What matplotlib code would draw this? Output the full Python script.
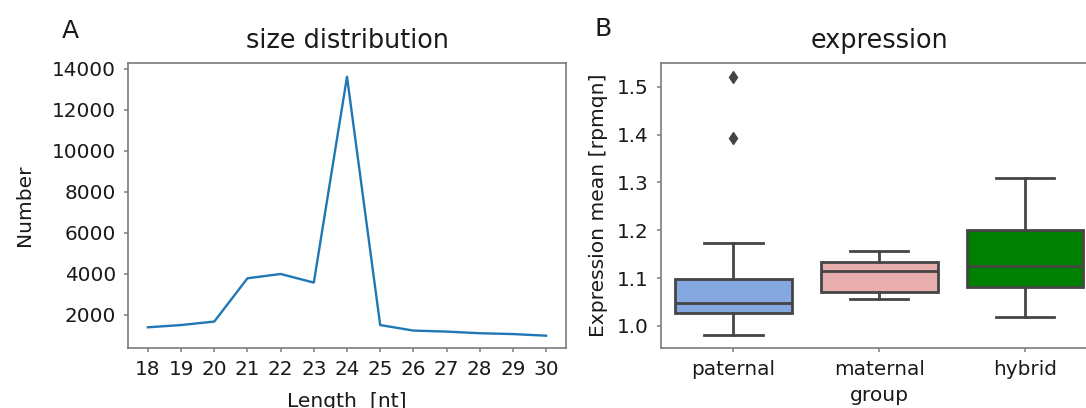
import matplotlib
matplotlib.use("Agg")
import matplotlib.pyplot as plt

# Panel A: small RNA size distribution
lengths = [18, 19, 20, 21, 22, 23, 24, 25, 26, 27, 28, 29, 30]
counts = [1400, 1510, 1680, 3790, 4000, 3580, 13620, 1510, 1240, 1190, 1110, 1070, 990]

# Panel B: expression summary per group
groups = ["paternal", "maternal", "hybrid"]
whisker_low = [0.981, 1.056, 1.018]
q1 = [1.028, 1.072, 1.082]
median = [1.049, 1.115, 1.126]
q3 = [1.098, 1.134, 1.200]
whisker_high = [1.174, 1.157, 1.309]
outliers = [[1.393, 1.521], [], []]
box_colors = ["#84a8df", "#e8adad", "#008000"]

spine_gray = "#7a7a7a"
edge_gray = "#454545"
text_color = "#1a1a1a"
fs_tick = 14.4
fs_label = 14.6
fs_title = 18.4

plt.rcParams["font.family"] = ["DejaVu Sans"]

fig = plt.figure(figsize=(10.86, 4.08), dpi=100)

ax1 = fig.add_axes([128 / 1086, 1 - 348 / 408, (566 - 128) / 1086, (348 - 63) / 408])
ax2 = fig.add_axes([660.5 / 1086, 1 - 348 / 408, (1098 - 660.5) / 1086, (348 - 63) / 408])

for ax in (ax1, ax2):
    for sp in ax.spines.values():
        sp.set_color(spine_gray)
        sp.set_linewidth(1.2)
    ax.tick_params(axis="both", length=3.2, width=1.1, color=spine_gray,
                   labelsize=fs_tick, labelcolor=text_color, pad=5.5)

# --- Panel A ---
ax1.plot(lengths, counts, color="#1f77b4", linewidth=1.7)
ax1.set_xticks(lengths)
ax1.set_xlim(17.4, 30.6)
ax1.set_ylim(390, 14290)
ax1.set_yticks([2000, 4000, 6000, 8000, 10000, 12000, 14000])
ax1.set_title("size distribution", fontsize=fs_title, pad=11, color=text_color)
ax1.set_xlabel("Length  [nt]", fontsize=fs_label, color=text_color, labelpad=9)
ax1.set_ylabel("Number", fontsize=fs_label, color=text_color, labelpad=13)

# --- Panel B ---
stats = []
for i, g in enumerate(groups):
    stats.append(dict(label=g, whislo=whisker_low[i], q1=q1[i], med=median[i],
                      q3=q3[i], whishi=whisker_high[i], fliers=outliers[i]))

bp = ax2.bxp(stats, positions=range(len(groups)), widths=0.8, capwidths=0.4,
             patch_artist=True, showfliers=True,
             boxprops=dict(edgecolor=edge_gray, linewidth=2.0),
             medianprops=dict(color=edge_gray, linewidth=2.0),
             whiskerprops=dict(color=edge_gray, linewidth=2.0),
             capprops=dict(color=edge_gray, linewidth=2.0),
             flierprops=dict(marker="d", markerfacecolor=edge_gray,
                             markeredgecolor=edge_gray, markersize=6))
for patch, c in zip(bp["boxes"], box_colors):
    patch.set_facecolor(c)

ax2.set_xlim(-0.5, 2.5)
ax2.set_ylim(0.954, 1.5495)
ax2.set_yticks([1.0, 1.1, 1.2, 1.3, 1.4, 1.5])
ax2.set_xticks(range(len(groups)))
ax2.set_xticklabels(groups)
ax2.set_title("expression", fontsize=fs_title, pad=11, color=text_color)
ax2.set_xlabel("group", fontsize=fs_label, color=text_color, labelpad=5)
ax2.set_ylabel("Expression mean [rpmqn]", fontsize=fs_label, color=text_color, labelpad=6)

fig.text(70 / 1086, 1 - 38.5 / 408, "A", fontsize=18, ha="center", va="baseline", color=text_color)
fig.text(603 / 1086, 1 - 36.5 / 408, "B", fontsize=18, ha="center", va="baseline", color=text_color)

fig.savefig("out.png", dpi=100)
